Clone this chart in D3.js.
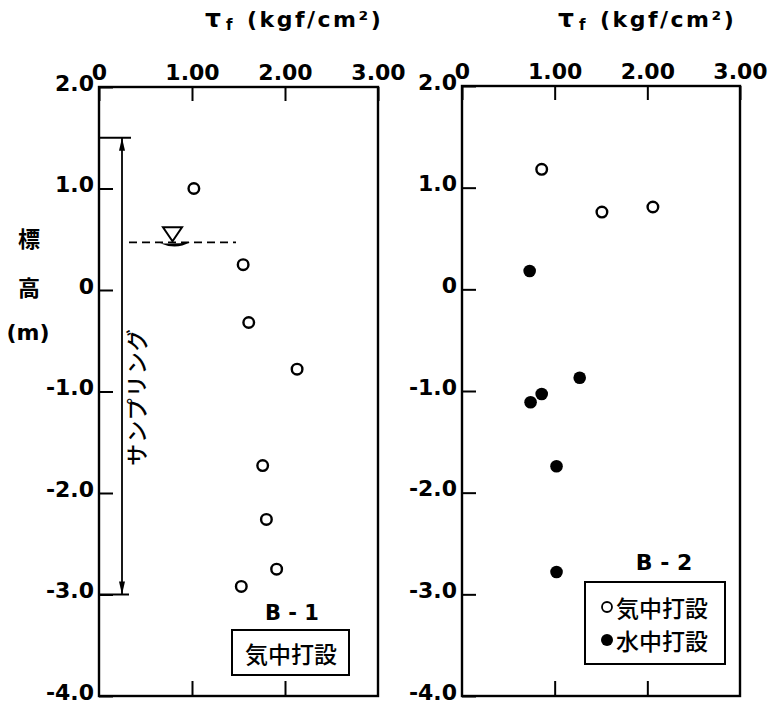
<!DOCTYPE html>
<html><head><meta charset="utf-8">
<script src="https://cdn.jsdelivr.net/npm/d3@7"></script>
<style>
html,body{margin:0;padding:0;background:#fff;}
svg{display:block;}
.num{font-family:"DejaVu Sans",sans-serif;font-weight:bold;font-size:22px;fill:#000;}
.jp{font-family:"Noto Sans CJK JP",sans-serif;font-weight:bold;fill:#000;}
</style></head>
<body>
<script>
// ---- data ----
const xTickValues = [0, 1, 2, 3];
const xTickLabels = ["0", "1.00", "2.00", "3.00"];
const yTickValues = [2, 1, 0, -1, -2, -3, -4];
const yTickLabels = ["2.0", "1.0", "0", "-1.0", "-2.0", "-3.0", "-4.0"];

// B-1 (気中打設)
const b1Tau  = [1.02, 1.55, 1.61, 2.13, 1.76, 1.80, 1.91, 1.53];
const b1Elev = [1.00, 0.25, -0.32, -0.78, -1.73, -2.26, -2.75, -2.92];

// B-2 気中打設 (open)
const b2AirTau  = [0.86, 1.51, 2.06];
const b2AirElev = [1.18, 0.76, 0.81];
// B-2 水中打設 (filled)
const b2WaterTau  = [0.73, 1.27, 0.86, 0.74, 1.02, 1.02];
const b2WaterElev = [0.18, -0.87, -1.03, -1.11, -1.74, -2.78];

const waterLevel = 0.48;
const samplingTop = 1.5, samplingBottom = -3.0;
const samplingLabel = "サンプリング";
const titleMain = "τ", titleSub = "f", titleUnit = "(kgf/cm²)";

// ---- drawing ----
const W = 771, H = 709;
const svg = d3.select("body").append("svg").attr("width", W).attr("height", H);

function panel(x0, x1, y0, y1, tx) {
  const x = d3.scaleLinear().domain([0, 3]).range([x0, x1]);
  const y = d3.scaleLinear().domain([2, -4]).range([y0, y1]);
  const g = svg.append("g");
  // frame
  g.append("rect").attr("x", x0).attr("y", y0).attr("width", x1 - x0).attr("height", y1 - y0)
    .attr("fill", "none").attr("stroke", "#000").attr("stroke-width", 2.4);
  // left axis
  const ya = g.append("g").attr("transform", `translate(${x0},0)`)
    .call(d3.axisLeft(y).tickValues(yTickValues).tickSizeInner(-14).tickSizeOuter(0).tickPadding(5)
      .tickFormat((d, i) => yTickLabels[i]));
  ya.select(".domain").remove();
  ya.selectAll("line").attr("stroke", "#000").attr("stroke-width", 2);
  ya.selectAll("text").attr("class", "num").attr("dy", "0.15em");
  ya.attr("font-size", null).attr("font-family", null);
  // top axis
  const xa = g.append("g").attr("transform", `translate(0,${y0})`)
    .call(d3.axisTop(x).tickValues(xTickValues).tickSizeInner(-14).tickSizeOuter(0).tickPadding(7)
      .tickFormat((d, i) => xTickLabels[i]));
  xa.select(".domain").remove();
  xa.selectAll("line").attr("stroke", "#000").attr("stroke-width", 2);
  xa.selectAll("text").attr("class", "num");
  xa.attr("font-size", null).attr("font-family", null);
  // bottom axis (ticks only)
  const xb = g.append("g").attr("transform", `translate(0,${y1})`)
    .call(d3.axisBottom(x).tickValues([1, 2]).tickSizeInner(-15).tickSizeOuter(0).tickFormat(""));
  xb.select(".domain").remove();
  xb.selectAll("line").attr("stroke", "#000").attr("stroke-width", 2);
  // title
  const t = svg.append("text").attr("y", 27).attr("class", "num");
  t.append("tspan").attr("x", tx).text(titleMain).style("font-size", "25px");
  t.append("tspan").attr("x", tx + 21).attr("dy", 3).text(titleSub).style("font-size", "15px");
  t.append("tspan").attr("x", tx + 42).attr("dy", -3).attr("letter-spacing", 2.5).text(titleUnit);
  return {x, y, g};
}

// ---- left panel B-1 ----
const L = panel(99, 378, 87, 696, 205);
L.g.selectAll("circle.b1").data(b1Tau).join("circle")
  .attr("cx", d => L.x(d)).attr("cy", (d, i) => L.y(b1Elev[i])).attr("r", 5.3)
  .attr("fill", "#fff").attr("stroke", "#000").attr("stroke-width", 2.4);

// water level
const wy = L.y(waterLevel);
L.g.append("line").attr("x1", 129).attr("x2", 236).attr("y1", wy + 1).attr("y2", wy + 1)
  .attr("stroke", "#000").attr("stroke-width", 1.8).attr("stroke-dasharray", "8,5");
L.g.append("path").attr("d", `M163,${wy - 14} L182,${wy - 14} L172.5,${wy} Z`)
  .attr("fill", "none").attr("stroke", "#000").attr("stroke-width", 2);
L.g.append("path").attr("d", `M160,${wy + 2} Q175,${wy + 3} 190,${wy + 1} Q176,${wy + 9} 160,${wy + 2} Z`)
  .attr("fill", "#000");

// sampling arrow
const sy0 = L.y(samplingTop), sy1 = L.y(samplingBottom);
const sx = 122;
L.g.append("line").attr("x1", 99).attr("x2", 131).attr("y1", sy0).attr("y2", sy0).attr("stroke", "#000").attr("stroke-width", 2);
L.g.append("line").attr("x1", 99).attr("x2", 129).attr("y1", sy1).attr("y2", sy1).attr("stroke", "#000").attr("stroke-width", 2);
L.g.append("line").attr("x1", sx).attr("x2", sx).attr("y1", sy0).attr("y2", sy1).attr("stroke", "#000").attr("stroke-width", 1.8);
L.g.append("path").attr("d", `M${sx},${sy0} L${sx - 3},${sy0 + 13} L${sx + 3},${sy0 + 13} Z`).attr("fill", "#000");
L.g.append("path").attr("d", `M${sx},${sy1} L${sx - 3},${sy1 - 13} L${sx + 3},${sy1 - 13} Z`).attr("fill", "#000");
svg.append("text").attr("class", "jp").attr("transform", `translate(135,397) rotate(-90)`)
  .attr("text-anchor", "middle").attr("dominant-baseline", "central").style("font-size", "22px")
  .style("font-weight", "500").attr("letter-spacing", 1).text(samplingLabel);

// y label
svg.append("text").attr("class", "jp").attr("x", 29).attr("y", 247).attr("text-anchor", "middle").style("font-size", "22px").text("標");
svg.append("text").attr("class", "jp").attr("x", 29).attr("y", 296).attr("text-anchor", "middle").style("font-size", "22px").text("高");
svg.append("text").attr("class", "num").attr("x", 28).attr("y", 340).attr("text-anchor", "middle").style("font-size", "22px").text("(m)");

// B-1 label + box
svg.append("text").attr("class", "num").attr("x", 292).attr("y", 620).attr("text-anchor", "middle").style("font-size", "21px").text("B - 1");
svg.append("rect").attr("x", 232).attr("y", 630).attr("width", 117).attr("height", 45)
  .attr("fill", "#fff").attr("stroke", "#000").attr("stroke-width", 2);
svg.append("text").attr("class", "jp").attr("x", 291).attr("y", 653).attr("text-anchor", "middle")
  .attr("dominant-baseline", "central").style("font-size", "23px").style("font-weight", "500").text("気中打設");

// ---- right panel B-2 ----
const R = panel(462, 740, 86, 696, 558);
R.g.selectAll("circle.air").data(b2AirTau).join("circle")
  .attr("cx", d => R.x(d)).attr("cy", (d, i) => R.y(b2AirElev[i])).attr("r", 5.3)
  .attr("fill", "#fff").attr("stroke", "#000").attr("stroke-width", 2.4);
R.g.selectAll("circle.wat").data(b2WaterTau).join("circle")
  .attr("cx", d => R.x(d)).attr("cy", (d, i) => R.y(b2WaterElev[i])).attr("r", 6.3)
  .attr("fill", "#000");

svg.append("text").attr("class", "num").attr("x", 664).attr("y", 570).attr("text-anchor", "middle").style("font-size", "22px").text("B - 2");
svg.append("rect").attr("x", 585).attr("y", 582).attr("width", 140).attr("height", 82)
  .attr("fill", "#fff").attr("stroke", "#000").attr("stroke-width", 2);
svg.append("circle").attr("cx", 607).attr("cy", 607).attr("r", 5).attr("fill", "#fff").attr("stroke", "#000").attr("stroke-width", 1.8);
svg.append("circle").attr("cx", 607).attr("cy", 640).attr("r", 6).attr("fill", "#000");
svg.append("text").attr("class", "jp").attr("x", 616).attr("y", 607).attr("dominant-baseline", "central")
  .style("font-size", "23px").style("font-weight", "500").text("気中打設");
svg.append("text").attr("class", "jp").attr("x", 616).attr("y", 640).attr("dominant-baseline", "central")
  .style("font-size", "23px").style("font-weight", "500").text("水中打設");
</script>
</body></html>
